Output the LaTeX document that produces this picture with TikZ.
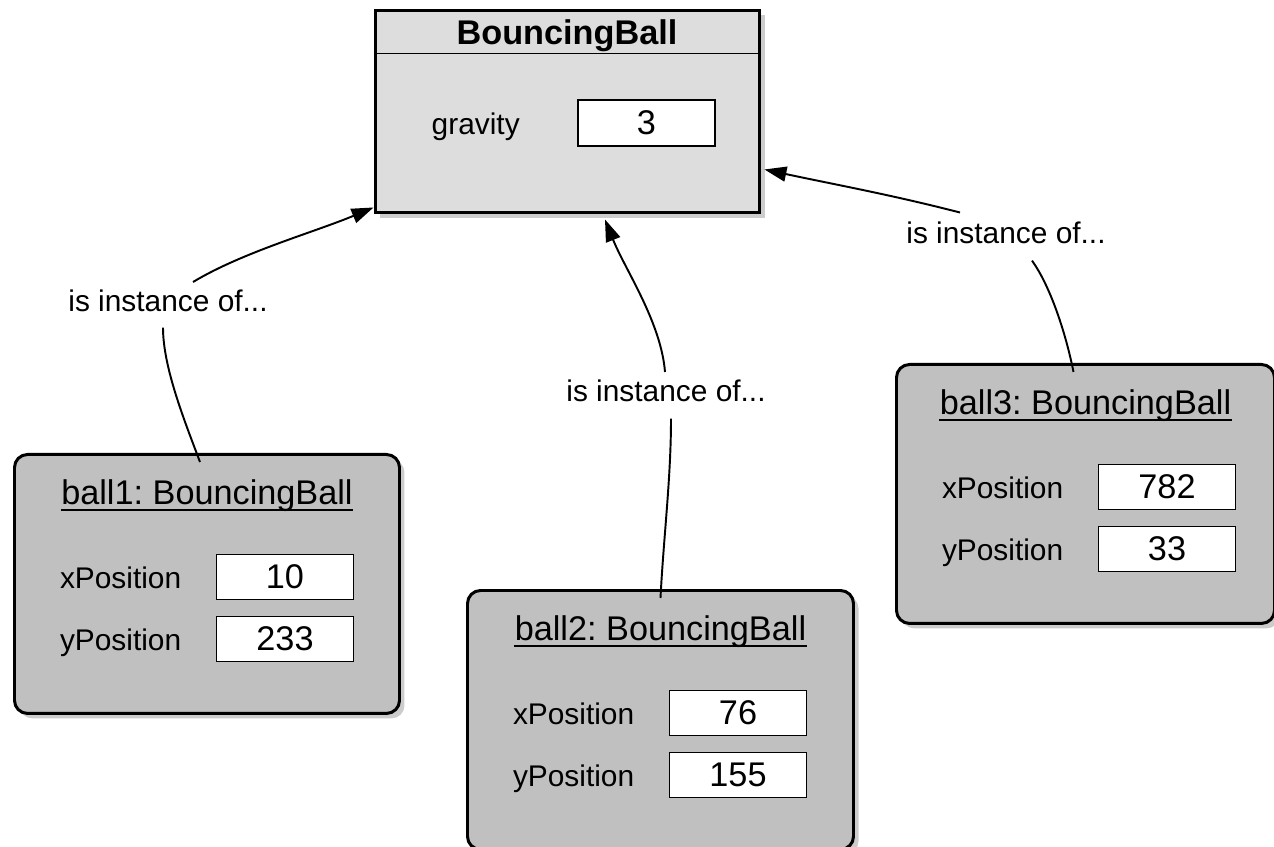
\documentclass[tikz,border=0pt]{standalone}
\usepackage{fontspec}
\setmainfont{Liberation Sans}
\usetikzlibrary{positioning,shadows,arrows.meta}
\definecolor{classgray}{RGB}{221,221,221}
\definecolor{objgray}{RGB}{192,192,192}
\frenchspacing

\begin{document}
\begin{tikzpicture}[x=0.02cm,y=-0.02cm,
    boxshadow/.style={drop shadow={shadow xshift=0.1cm,shadow yshift=-0.1cm,opacity=0.4}},
    classbox/.style={draw,line width=1.7pt,fill=classgray,boxshadow,inner sep=0pt,minimum width=7.7cm,minimum height=4.06cm},
    objbox/.style={draw,line width=1.7pt,fill=objgray,rounded corners=0.26cm,boxshadow,inner sep=0pt,minimum height=5.18cm},
    valbox/.style={draw,fill=white,line width=1.1pt,inner sep=0pt,minimum width=2.74cm,minimum height=0.9cm,font=\fontsize{19.5}{23}\selectfont},
    field/.style={inner sep=0pt,font=\fontsize{17}{20}\selectfont},
    objtitle/.style={inner sep=0pt,anchor=base,font=\fontsize{19.5}{23}\selectfont},
    link/.style={line width=1.1pt},
    linkarrow/.style={link,-{Triangle[length=0.44cm,width=0.3cm]}}]
        \useasboundingbox (0,0) rectangle (1274,847);

        % class
        \node[classbox] (cls) at (567.5,111.5) {};
        \draw[line width=1.1pt] ([yshift=-0.9cm]cls.north west) -- ([yshift=-0.9cm]cls.north east);
        \node[inner sep=0pt,anchor=base,font=\fontsize{19.5}{23}\selectfont\bfseries] (clsname) at (567,45) {BouncingBall};
        \node[valbox,minimum height=0.92cm] (gval) at (646.5,123) {3};
        \node[field,base left=1.14cm of gval] (gravity) {gravity};

        % objects
        \foreach \n/\l/\t/\w/\xv/\yv in {1/13/453/385/10/233, 2/466/589/386/76/155, 3/895/363/378/782/33} {
          \node[objbox,anchor=north west,minimum width={\w*0.02cm}] (ball\n) at (\l,\t) {};
          \node[objtitle] (title\n) at ([yshift=-1.04cm]ball\n.north) {ball\n: BouncingBall};
          \draw[line width=1pt] ([yshift=-0.1cm]title\n.base west) -- ([yshift=-0.1cm]title\n.base east);
          \node[valbox] (xval\n) at ([shift={(272,124)}]ball\n.north west) {\xv};
          \node[valbox] (yval\n) at ([shift={(272,186)}]ball\n.north west) {\yv};
          \node[field,base left=0.68cm of xval\n] (xlab\n) {xPosition};
          \node[field,base left=0.68cm of yval\n] (ylab\n) {yPosition};
        }

        \node[field,anchor=base] (inst1) at (168,312) {is instance of...};
        \node[field,anchor=base] (inst2) at (666,402) {is instance of...};
        \node[field,anchor=base] (inst3) at (1006,244) {is instance of...};

        \draw[link] ([xshift=-0.1cm,yshift=-0.3cm]inst1.south) .. controls +(0,40) and +(-15,-40) .. ([xshift=-0.14cm,yshift=-0.18cm]ball1.north);
        \draw[linkarrow] ([xshift=0.5cm,yshift=0.16cm]inst1.north) .. controls +(50,-30) and +(-60,25) .. ([yshift=0.14cm]cls.south west);

        \draw[link] ([xshift=0.1cm,yshift=-0.32cm]inst2.south) .. controls +(0,60) and +(3,-60) .. ([yshift=-0.18cm]ball2.north);
        \draw[linkarrow] ([xshift=-0.02cm,yshift=0.16cm]inst2.north) .. controls +(-4,-50) and +(20,50) .. ([xshift=0.75cm,yshift=-0.1cm]cls.south);

        \draw[link] ([xshift=0.52cm,yshift=-0.32cm]inst3.south) .. controls +(18,25) and +(-8,-40) .. ([xshift=-0.24cm,yshift=-0.18cm]ball3.north);
        \draw[linkarrow] ([xshift=-0.92cm,yshift=0.19cm]inst3.north) .. controls +(-70,-18) and +(70,15) .. ([xshift=0.06cm,yshift=0.9cm]cls.south east);
\end{tikzpicture}
\end{document}
